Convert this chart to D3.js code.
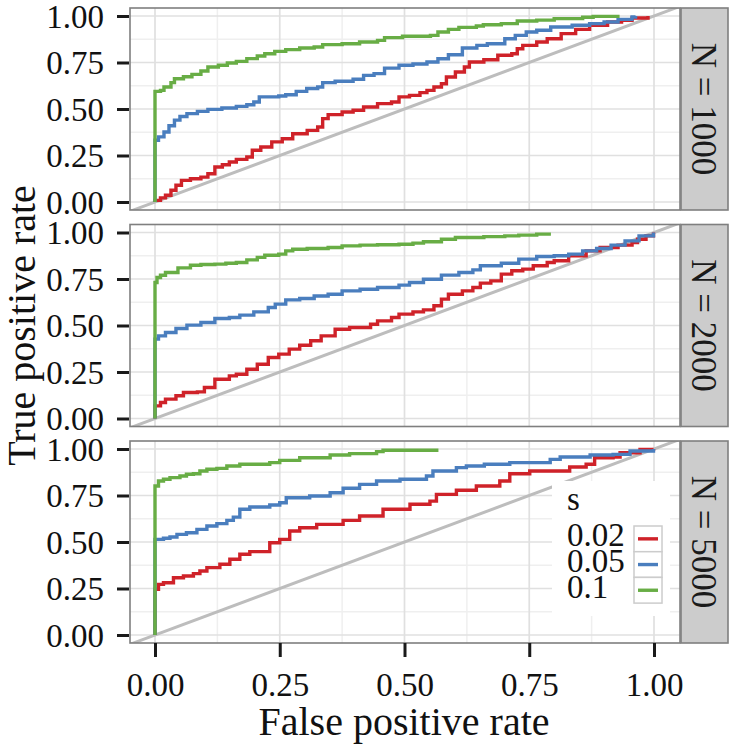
<!DOCTYPE html>
<html><head><meta charset="utf-8">
<script src="https://cdn.jsdelivr.net/npm/d3@7"></script>
<style>body{margin:0;background:#fff}svg{display:block}</style>
</head><body><script>
// ---------- data ----------
const panelNames = ["N = 1000", "N = 2000", "N = 5000"];
const sLevels = ["0.02", "0.05", "0.1"];
const tickValues = [0, 0.25, 0.5, 0.75, 1];
const tickLabels = ["0.00", "0.25", "0.50", "0.75", "1.00"];
const minorValues = [0.125, 0.375, 0.625, 0.875];
const seriesColors = ["#cf2229", "#4a7ebe", "#68ad45"];

// [false positive rate, true positive rate]
const roc1000_s002 = [[0,0],[0,0.009],[0.011,0.022],[0.021,0.036],[0.032,0.063],[0.042,0.09],[0.053,0.116],[0.071,0.125],[0.092,0.134],[0.106,0.152],[0.12,0.188],[0.135,0.2],[0.149,0.215],[0.163,0.229],[0.184,0.242],[0.195,0.278],[0.212,0.296],[0.234,0.323],[0.255,0.34],[0.276,0.367],[0.305,0.385],[0.326,0.403],[0.336,0.448],[0.347,0.47],[0.375,0.484],[0.397,0.493],[0.418,0.511],[0.446,0.529],[0.474,0.538],[0.489,0.565],[0.51,0.573],[0.531,0.588],[0.545,0.6],[0.559,0.618],[0.574,0.636],[0.584,0.672],[0.602,0.699],[0.62,0.726],[0.63,0.753],[0.659,0.765],[0.687,0.789],[0.715,0.797],[0.726,0.824],[0.737,0.842],[0.765,0.86],[0.786,0.878],[0.814,0.905],[0.843,0.928],[0.871,0.95],[0.907,0.968],[0.935,0.977],[0.956,0.989],[0.988,1.0]];
const roc1000_s005 = [[0,0],[0,0.332],[0.007,0.35],[0.018,0.376],[0.028,0.41],[0.039,0.44],[0.05,0.46],[0.064,0.475],[0.085,0.487],[0.106,0.498],[0.134,0.505],[0.163,0.514],[0.184,0.523],[0.198,0.538],[0.209,0.565],[0.248,0.57],[0.262,0.577],[0.283,0.595],[0.304,0.61],[0.326,0.618],[0.336,0.642],[0.361,0.649],[0.397,0.66],[0.418,0.681],[0.439,0.69],[0.46,0.72],[0.489,0.735],[0.517,0.742],[0.545,0.753],[0.567,0.77],[0.588,0.792],[0.616,0.828],[0.645,0.842],[0.666,0.851],[0.701,0.878],[0.722,0.896],[0.744,0.914],[0.765,0.923],[0.793,0.941],[0.836,0.95],[0.871,0.959],[0.9,0.968],[0.928,0.982],[0.956,0.995],[0.963,1.0]];
const roc1000_s01 = [[0,0],[0,0.595],[0.011,0.6],[0.018,0.618],[0.032,0.642],[0.039,0.663],[0.057,0.673],[0.074,0.686],[0.092,0.704],[0.106,0.726],[0.127,0.735],[0.145,0.747],[0.163,0.756],[0.184,0.771],[0.205,0.785],[0.22,0.797],[0.24,0.81],[0.262,0.819],[0.29,0.828],[0.319,0.833],[0.336,0.846],[0.375,0.851],[0.41,0.86],[0.446,0.869],[0.46,0.884],[0.496,0.891],[0.552,0.896],[0.567,0.914],[0.588,0.928],[0.609,0.939],[0.644,0.946],[0.658,0.953],[0.694,0.959],[0.726,0.973],[0.765,0.978],[0.8,0.986],[0.857,0.993],[0.878,0.998],[0.931,0.998]];

const roc2000_s002 = [[0,0],[0,0.068],[0.011,0.086],[0.021,0.104],[0.042,0.122],[0.057,0.14],[0.085,0.143],[0.099,0.167],[0.12,0.211],[0.149,0.229],[0.163,0.238],[0.184,0.265],[0.205,0.292],[0.227,0.328],[0.248,0.346],[0.269,0.373],[0.29,0.394],[0.312,0.418],[0.333,0.444],[0.361,0.48],[0.39,0.489],[0.432,0.507],[0.446,0.525],[0.474,0.543],[0.489,0.561],[0.517,0.573],[0.538,0.584],[0.559,0.606],[0.574,0.642],[0.588,0.668],[0.616,0.686],[0.637,0.704],[0.652,0.728],[0.673,0.74],[0.694,0.776],[0.715,0.794],[0.737,0.803],[0.758,0.821],[0.786,0.839],[0.8,0.848],[0.829,0.875],[0.864,0.901],[0.892,0.919],[0.928,0.932],[0.956,0.946],[0.967,0.964],[0.984,0.982],[0.999,1.0]];
const roc2000_s005 = [[0,0],[0,0.427],[0.007,0.444],[0.021,0.462],[0.042,0.484],[0.064,0.502],[0.092,0.516],[0.12,0.538],[0.149,0.543],[0.17,0.556],[0.198,0.573],[0.227,0.597],[0.241,0.615],[0.262,0.638],[0.29,0.645],[0.319,0.659],[0.347,0.668],[0.375,0.686],[0.411,0.695],[0.446,0.704],[0.489,0.717],[0.51,0.731],[0.538,0.749],[0.574,0.771],[0.609,0.785],[0.637,0.799],[0.652,0.821],[0.694,0.835],[0.729,0.857],[0.765,0.871],[0.8,0.875],[0.829,0.884],[0.857,0.901],[0.885,0.914],[0.914,0.932],[0.942,0.955],[0.97,0.982],[0.999,1.0]];
const roc2000_s01 = [[0,0],[0,0.731],[0.004,0.758],[0.011,0.77],[0.021,0.785],[0.046,0.81],[0.071,0.824],[0.092,0.828],[0.12,0.83],[0.142,0.835],[0.163,0.839],[0.184,0.853],[0.205,0.866],[0.22,0.878],[0.248,0.884],[0.262,0.901],[0.276,0.91],[0.305,0.914],[0.347,0.919],[0.375,0.928],[0.411,0.932],[0.446,0.934],[0.489,0.937],[0.517,0.943],[0.538,0.95],[0.574,0.964],[0.602,0.973],[0.659,0.978],[0.701,0.982],[0.729,0.986],[0.765,0.991],[0.79,1.0]];

const roc5000_s002 = [[0,0],[0,0.246],[0.007,0.272],[0.017,0.281],[0.037,0.308],[0.057,0.317],[0.077,0.33],[0.09,0.344],[0.104,0.362],[0.13,0.38],[0.15,0.407],[0.17,0.434],[0.19,0.448],[0.23,0.496],[0.25,0.514],[0.27,0.559],[0.29,0.577],[0.324,0.595],[0.377,0.616],[0.41,0.64],[0.457,0.676],[0.511,0.703],[0.551,0.72],[0.564,0.756],[0.604,0.778],[0.644,0.801],[0.691,0.828],[0.711,0.867],[0.751,0.882],[0.831,0.903],[0.864,0.918],[0.881,0.953],[0.918,0.957],[0.932,0.98],[0.972,0.998],[0.999,1.0]];
const roc5000_s005 = [[0,0],[0,0.514],[0.017,0.52],[0.03,0.527],[0.044,0.541],[0.063,0.55],[0.084,0.568],[0.104,0.586],[0.124,0.599],[0.144,0.616],[0.157,0.634],[0.17,0.676],[0.19,0.688],[0.23,0.699],[0.25,0.711],[0.263,0.738],[0.31,0.747],[0.351,0.765],[0.377,0.789],[0.41,0.81],[0.444,0.828],[0.491,0.837],[0.544,0.855],[0.557,0.882],[0.604,0.9],[0.624,0.909],[0.66,0.918],[0.711,0.927],[0.792,0.944],[0.812,0.957],[0.872,0.968],[0.918,0.971],[0.952,0.989],[0.999,1.0]];
const roc5000_s01 = [[0,0],[0,0.801],[0.007,0.828],[0.017,0.837],[0.03,0.846],[0.05,0.855],[0.063,0.864],[0.077,0.867],[0.09,0.882],[0.104,0.891],[0.124,0.896],[0.144,0.909],[0.17,0.918],[0.23,0.927],[0.25,0.939],[0.29,0.953],[0.351,0.968],[0.39,0.975],[0.444,0.986],[0.457,0.993],[0.568,0.993]];

const panelSeries = [
  [roc1000_s002, roc1000_s005, roc1000_s01],
  [roc2000_s002, roc2000_s005, roc2000_s01],
  [roc5000_s002, roc5000_s005, roc5000_s01]
];

// ---------- layout ----------
const W = 733, H = 744;
const FONT = "'Liberation Serif','Times New Roman',Times,serif";
const PL = 130, PR = 680, SR = 728, PH = 202, PAD = 8;
const panelTop = [8, 224.5, 441];

const svg = d3.select("body").append("svg")
  .attr("width", W).attr("height", H)
  .style("font-family", FONT);

const x = d3.scaleLinear().domain([0, 1]).range([155, 654]);

panelNames.forEach((name, i) => {
  const t = panelTop[i];
  const y = d3.scaleLinear().domain([0, 1]).range([t + PH - PAD, t + PAD]);
  const g = svg.append("g");

  g.append("clipPath").attr("id", "clip" + i)
    .append("rect").attr("x", PL).attr("y", t).attr("width", PR - PL).attr("height", PH);

  g.append("rect").attr("x", PL).attr("y", t).attr("width", PR - PL).attr("height", PH).attr("fill", "#fff");

  const grid = g.append("g");
  minorValues.forEach(v => {
    grid.append("line").attr("x1", x(v)).attr("x2", x(v)).attr("y1", t).attr("y2", t + PH)
      .attr("stroke", "#efefef").attr("stroke-width", 1.5);
    grid.append("line").attr("x1", PL).attr("x2", PR).attr("y1", y(v)).attr("y2", y(v))
      .attr("stroke", "#efefef").attr("stroke-width", 1.5);
  });
  tickValues.forEach(v => {
    grid.append("line").attr("x1", x(v)).attr("x2", x(v)).attr("y1", t).attr("y2", t + PH)
      .attr("stroke", "#e0e0e0").attr("stroke-width", 1.7);
    grid.append("line").attr("x1", PL).attr("x2", PR).attr("y1", y(v)).attr("y2", y(v))
      .attr("stroke", "#e0e0e0").attr("stroke-width", 1.7);
  });

  const plot = g.append("g").attr("clip-path", "url(#clip" + i + ")");
  plot.append("line")
    .attr("x1", x(-0.1)).attr("y1", y(-0.1)).attr("x2", x(1.1)).attr("y2", y(1.1))
    .attr("stroke", "#bdbdbd").attr("stroke-width", 3);

  const line = d3.line().x(d => x(d[0])).y(d => y(d[1])).curve(d3.curveStepAfter);
  panelSeries[i].forEach((data, k) => {
    plot.append("path").datum(data).attr("d", line)
      .attr("fill", "none").attr("stroke", seriesColors[k])
      .attr("stroke-width", 3.4).attr("stroke-linejoin", "miter");
  });

  if (i === 2) {
    const lg = g.append("g");
    lg.append("rect").attr("x", 552).attr("y", 481).attr("width", 118).attr("height", 135).attr("fill", "#fff");
    lg.append("text").attr("x", 567).attr("y", 510).attr("font-size", 33).attr("fill", "#111").text("s");
    const keyTop = 526, keyH = 25.7;
    sLevels.forEach((s, k) => {
      const ky = keyTop + k * keyH;
      lg.append("rect").attr("x", 634).attr("y", ky).attr("width", 28).attr("height", keyH)
        .attr("fill", "#fff").attr("stroke", "#cccccc").attr("stroke-width", 1.5);
      lg.append("line").attr("x1", 638).attr("x2", 658).attr("y1", ky + keyH / 2).attr("y2", ky + keyH / 2)
        .attr("stroke", seriesColors[k]).attr("stroke-width", 3.4);
      lg.append("text").attr("x", 567).attr("y", ky + keyH / 2 + 7.5).attr("font-size", 33).attr("fill", "#111").text(s);
    });
  }

  g.append("rect").attr("x", PL).attr("y", t).attr("width", PR - PL).attr("height", PH)
    .attr("fill", "none").attr("stroke", "#7f7f7f").attr("stroke-width", 1.6);

  g.append("rect").attr("x", PR + 1).attr("y", t).attr("width", SR - PR - 1).attr("height", PH)
    .attr("fill", "#cccccc").attr("stroke", "#7f7f7f").attr("stroke-width", 1.6);
  g.append("text")
    .attr("transform", `translate(${(PR + 1 + SR) / 2},${t + PH / 2}) rotate(90)`)
    .attr("text-anchor", "middle").attr("dy", "0.35em")
    .attr("font-size", 35).attr("fill", "#1a1a1a").text(name);

  const yAxis = d3.axisLeft(y).tickValues(tickValues)
    .tickFormat((d, j) => tickLabels[j]).tickSize(12).tickPadding(13);
  const ya = g.append("g").attr("transform", `translate(${PL - 1},0)`).call(yAxis);
  ya.select(".domain").remove();
  ya.selectAll(".tick line").attr("stroke", "#1a1a1a").attr("stroke-width", 3);
  ya.selectAll(".tick text").attr("font-size", 33).attr("font-family", FONT).attr("fill", "#111").attr("dy", "0.34em");

  if (i === 2) {
    const xAxis = d3.axisBottom(x).tickValues(tickValues)
      .tickFormat((d, j) => tickLabels[j]).tickSize(14);
    const xa = g.append("g").attr("transform", `translate(0,${t + PH})`).call(xAxis);
    xa.select(".domain").remove();
    xa.selectAll(".tick line").attr("stroke", "#1a1a1a").attr("stroke-width", 3);
    xa.selectAll(".tick text").attr("font-size", 33).attr("font-family", FONT).attr("fill", "#111")
      .attr("y", 53).attr("dy", 0);
  }
});

svg.append("text").attr("x", (PL + PR) / 2 - 1).attr("y", 735)
  .attr("text-anchor", "middle").attr("font-size", 40).attr("fill", "#111").text("False positive rate");
svg.append("text")
  .attr("transform", `translate(35,${(panelTop[0] + panelTop[2] + PH) / 2}) rotate(-90)`)
  .attr("text-anchor", "middle").attr("font-size", 40).attr("fill", "#111").text("True positive rate");
</script></body></html>
